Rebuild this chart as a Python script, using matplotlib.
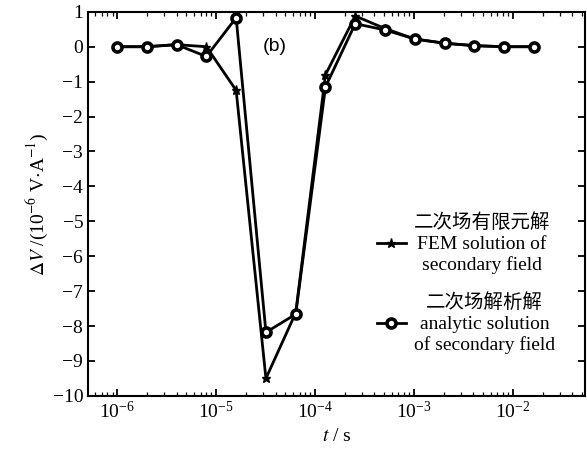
import numpy as np
import matplotlib
matplotlib.use('Agg')
import matplotlib.pyplot as plt

plt.rcParams['font.family'] = ['Liberation Serif', 'Noto Sans CJK SC']
plt.rcParams['mathtext.fontset'] = 'stix'

# time samples (s): 1 us doubling each step
t = [1e-6, 2e-6, 4e-6, 8e-6, 1.6e-5, 3.2e-5, 6.4e-5, 1.28e-4, 2.56e-4,
     5.12e-4, 1.024e-3, 2.048e-3, 4.096e-3, 8.192e-3, 1.6384e-2]
fem = [0.0, 0.0, 0.06, 0.0, -1.25, -9.5, -7.62, -0.8, 0.88,
       0.52, 0.22, 0.1, 0.03, 0.0, 0.0]
ana = [0.0, 0.0, 0.06, -0.28, 0.83, -8.18, -7.66, -1.15, 0.66,
       0.48, 0.22, 0.1, 0.03, 0.0, 0.0]

lab_fem = '二次场有限元解\nFEM solution of\nsecondary field'
lab_ana = '二次场解析解\nanalytic solution\nof secondary field'

fig = plt.figure(figsize=(5.87, 4.54), dpi=100)
ax = fig.add_axes([0.150, 0.128, 0.846, 0.846])

ax.plot(t, fem, color='black', lw=2, marker='*', ms=6.5, label=lab_fem)
ax.plot(t, ana, color='black', lw=2, marker='o', ms=6.5, mfc='white',
        mew=2.6, label=lab_ana)

ax.set_xscale('log')
ax.set_xlim(10**-6.293, 10**-1.273)
ax.set_ylim(-10, 1)
ax.set_yticks(np.arange(-10, 2, 1))
ax.set_yticklabels(['−10', '−9', '−8', '−7', '−6', '−5', '−4', '−3', '−2', '−1', '0', '1'])
ax.set_xticks([1e-6, 1e-5, 1e-4, 1e-3, 1e-2])

ax.tick_params(which='both', direction='in', top=True, right=True, labelsize=14)
ax.tick_params(which='major', length=5, width=1.3)
ax.tick_params(which='minor', length=3, width=0.9)
for s in ax.spines.values():
    s.set_linewidth(1.5)

ax.set_xlabel(r'$t$ / s', fontsize=14, labelpad=4)
ax.set_ylabel(r'$\Delta V$ /(10$^{-6}$ V$\cdot$A$^{-1}$)', fontsize=14, labelpad=2)

ax.text(0.376, 0.91, '(b)', transform=ax.transAxes, fontsize=14,
        family=['Liberation Sans', 'DejaVu Sans'], ha='center', va='center')

leg = ax.legend(loc='upper left', bbox_to_anchor=(0.562, 0.50), frameon=False,
                fontsize=14, handlelength=1.5, handletextpad=0.4,
                labelspacing=1.0, borderpad=0)
for txt in leg.get_texts():
    txt.set_multialignment('center')
    txt.set_linespacing(1.25)

fig.savefig('out.png', dpi=100)
